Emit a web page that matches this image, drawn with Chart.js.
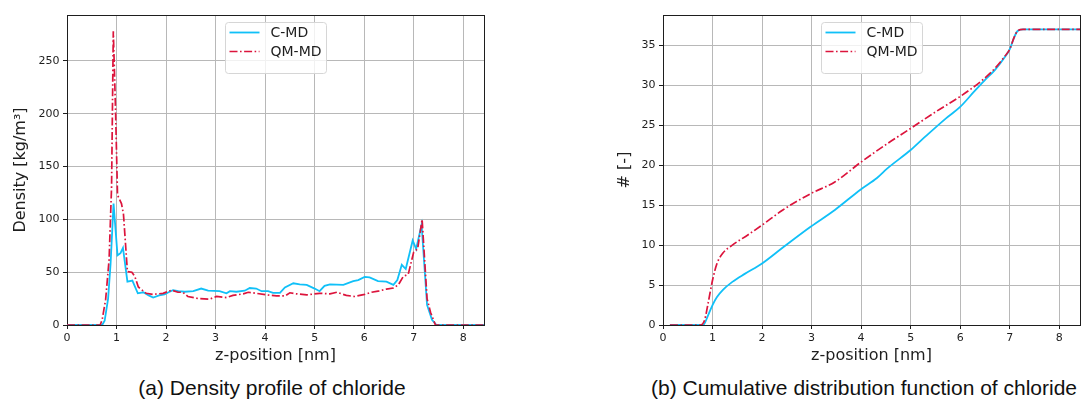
<!DOCTYPE html>
<html>
<head>
<meta charset="utf-8">
<script src="https://cdn.jsdelivr.net/npm/chart.js@4.4.1/dist/chart.umd.min.js"></script>
<style>
  body { margin: 0; background: #fff; }
  #wrap { position: relative; width: 1085px; height: 400px; overflow: hidden; }
  canvas { position: absolute; top: 0; }
  #density { left: 0; }
  #cdf { left: 540px; }
  .caption {
    position: absolute; top: 376px; line-height: 21px;
    font: 21px "Liberation Sans", Arial, sans-serif; color: #111; white-space: nowrap;
  }
  #capA { left: 0; width: 544px; text-align: center; }
  #capB { left: 651px; }
</style>
</head>
<body>
<div id="wrap">
  <canvas id="density" width="540" height="372"></canvas>
  <canvas id="cdf" width="545" height="372"></canvas>
  <div class="caption" id="capA">(a) Density profile of chloride</div>
  <div class="caption" id="capB">(b) Cumulative distribution function of chloride</div>
</div>
<script>
/* =========================
   Data
========================= */
// density profile, z-position [nm] / density [kg/m3]
const densZCmd = [0, 0.71, 0.76, 0.83, 0.88, 0.94, 1.02, 1.08, 1.13, 1.22, 1.32, 1.43, 1.54, 1.65, 1.74,
  1.86, 1.97, 2.05, 2.14, 2.25, 2.38, 2.55, 2.71, 2.85, 3.08, 3.22, 3.29, 3.42, 3.59, 3.69, 3.82, 3.93,
  4.06, 4.16, 4.30, 4.40, 4.57, 4.70, 4.84, 5.0, 5.1, 5.2, 5.31, 5.58, 5.78, 5.88, 6.01, 6.11, 6.28,
  6.45, 6.59, 6.67, 6.76, 6.84, 6.98, 7.05, 7.16, 7.27, 7.37, 7.46, 8.42];
const densCmd = [0, 0, 4, 25, 58, 115, 66, 68, 73, 41, 42, 30, 31, 28, 26,
  28, 29, 31, 33, 32, 31.5, 32, 34.5, 32.5, 32, 30, 32, 31.5, 32.5, 35, 34.5, 32,
  32, 30.5, 30.5, 35.5, 39.5, 38.5, 38, 34.5, 32, 37, 38.5, 38, 41.5, 42.5, 45.5, 45, 41.5,
  41, 38, 42.5, 57, 53, 80, 72, 95, 19, 5, 0, 0];

const densZQm = [0, 0.67, 0.71, 0.78, 0.85, 0.90, 0.935, 0.98, 1.02, 1.10, 1.14, 1.22, 1.31, 1.37, 1.44,
  1.6, 1.74, 1.94, 2.11, 2.24, 2.34, 2.44, 2.65, 2.88, 3.02, 3.22, 3.35, 3.56, 3.66, 3.82, 4.03, 4.23,
  4.40, 4.50, 4.63, 4.84, 5.1, 5.31, 5.45, 5.64, 5.81, 6.01, 6.15, 6.28, 6.45, 6.59, 6.69, 6.79, 6.89,
  7.0, 7.08, 7.17, 7.27, 7.34, 7.44, 8.42];
const densQm = [0, 0, 5, 24, 62, 131, 278, 204, 123, 115, 105, 50.5, 50, 46, 36,
  30, 29, 30, 33, 31, 31, 27, 25, 24.5, 27, 26, 28, 29.5, 31, 30, 28.5, 27.5,
  27.5, 30.5, 29.5, 28.5, 30, 29.5, 31, 28, 27, 29, 31, 32, 34, 35, 38, 46, 48,
  69, 72, 100, 25, 12, 0, 0];

// cumulative number of ions, z-position [nm] / # [-]
const cdfZCmd = [0.14, 0.81, 0.91, 1.0, 1.09, 1.21, 1.40, 1.65, 2.0, 2.42, 2.98, 3.47, 4.0, 4.32, 4.53,
  5.0, 5.3, 5.72, 6.0, 6.28, 6.49, 6.70, 6.91, 7.0, 7.09, 7.16, 7.27, 8.42];
const cdfCmd = [0, 0, 1.2, 2.5, 3.5, 4.4, 5.4, 6.4, 7.7, 9.7, 12.3, 14.4, 17.0, 18.4, 19.6,
  21.9, 23.6, 25.9, 27.3, 29.2, 30.6, 31.9, 33.6, 34.5, 36.0, 36.8, 37.0, 37.0];

const cdfZQm = [0.14, 0.75, 0.84, 0.91, 1.0, 1.09, 1.21, 1.40, 1.72, 2.0, 2.42, 3.0, 3.47, 4.0, 4.53,
  5.0, 5.51, 6.0, 6.42, 6.70, 6.91, 7.0, 7.09, 7.16, 7.27, 8.42];
const cdfQm = [0, 0, 0.6, 2.7, 5.6, 7.7, 9.0, 10.0, 11.3, 12.5, 14.4, 16.5, 17.9, 20.4, 22.7,
  24.6, 26.7, 28.6, 30.5, 32.1, 33.7, 34.5, 36.0, 36.8, 37.0, 37.0];

const seriesNames = ['C-MD', 'QM-MD'];
const zMax = 8.42;

/* =========================
   Styling helpers
========================= */
const cmdColor = '#10c0f8';
const qmColor = '#dc143c';
const inkColor = '#1e1e1e';

Chart.defaults.font.family = '"DejaVu Sans", sans-serif';
Chart.defaults.color = inkColor;

const toPoints = (xs, ys) => xs.map((x, i) => ({ x: x, y: ys[i] }));

function makeDatasets(zCmd, vCmd, zQm, vQm, smooth) {
  return [
    {
      label: seriesNames[0],
      data: toPoints(zCmd, vCmd),
      borderColor: cmdColor,
      borderWidth: 1.8,
      pointRadius: 0,
      tension: 0,
      cubicInterpolationMode: smooth ? 'monotone' : 'default',
      order: 1
    },
    {
      label: seriesNames[1],
      data: toPoints(zQm, vQm),
      borderColor: qmColor,
      borderWidth: 1.7,
      borderDash: [8, 2.5, 1.6, 2.5],
      pointRadius: 0,
      tension: 0,
      cubicInterpolationMode: smooth ? 'monotone' : 'default',
      order: 0
    }
  ];
}

// black frame round the plot area
const framePlugin = {
  id: 'frame',
  beforeDatasetsDraw(chart) {
    const { ctx, chartArea: a } = chart;
    ctx.save();
    ctx.strokeStyle = inkColor;
    ctx.lineWidth = 1;
    const l = Math.round(a.left) + 0.5, t = Math.round(a.top) + 0.5;
    const r = Math.round(a.right) + 0.5, b = Math.round(a.bottom) + 0.5;
    ctx.strokeRect(l, t, r - l, b - t);
    ctx.restore();
  }
};

// boxed legend inside the plot, upper centre
const boxLegend = {
  id: 'boxLegend',
  afterDatasetsDraw(chart) {
    const { ctx, chartArea: a } = chart;
    const w = 101, h = 51;
    const x0 = Math.round((a.left + a.right) / 2 - w / 2) + 0.5;
    const y0 = Math.round(a.top) + 7.5;
    ctx.save();
    ctx.beginPath();
    ctx.roundRect(x0, y0, w, h, 3);
    ctx.fillStyle = 'rgba(255,255,255,0.8)';
    ctx.fill();
    ctx.strokeStyle = '#d6d6d6';
    ctx.lineWidth = 1;
    ctx.stroke();
    ctx.font = '14px "DejaVu Sans"';
    ctx.textBaseline = 'middle';
    chart.data.datasets.forEach((ds, i) => {
      const y = y0 + 10 + i * 19;
      ctx.beginPath();
      ctx.setLineDash(ds.borderDash || []);
      ctx.strokeStyle = ds.borderColor;
      ctx.lineWidth = ds.borderWidth;
      ctx.moveTo(x0 + 4, y);
      ctx.lineTo(x0 + 34, y);
      ctx.stroke();
      ctx.setLineDash([]);
      ctx.fillStyle = inkColor;
      ctx.fillText(ds.label, x0 + 45, y + 1);
    });
    ctx.restore();
  }
};

function makeScales(yMax, yStep, yTitle, yTitlePad, yWidth) {
  const grid = { color: '#b8b8b8', lineWidth: 1, tickLength: 4, tickColor: inkColor };
  return {
    x: {
      type: 'linear',
      min: 0,
      max: zMax,
      ticks: { stepSize: 1, includeBounds: false, padding: 3, color: inkColor, font: { size: 11 } },
      grid: grid,
      border: { display: false },
      title: { display: true, text: 'z-position [nm]', color: inkColor, font: { size: 16 }, padding: { top: 0, bottom: 7 } },
      afterFit(scale) { scale.height = 47; }
    },
    y: {
      type: 'linear',
      min: 0,
      max: yMax,
      ticks: { stepSize: yStep, includeBounds: false, padding: 3.5, color: inkColor, font: { size: 11 } },
      grid: grid,
      border: { display: false },
      title: { display: true, text: yTitle, color: inkColor, font: { size: 16 }, padding: { top: yTitlePad, bottom: 0 } },
      afterFit(scale) { scale.width = yWidth; }
    }
  };
}

function makeChart(id, datasets, scales, padding) {
  return new Chart(document.getElementById(id).getContext('2d'), {
    type: 'line',
    data: { datasets: datasets },
    options: {
      responsive: false,
      animation: false,
      layout: { padding: padding },
      plugins: { legend: { display: false }, tooltip: { enabled: false } },
      scales: scales
    },
    plugins: [framePlugin, boxLegend]
  });
}

/* =========================
   Density profile
========================= */
makeChart('density',
  makeDatasets(densZCmd, densCmd, densZQm, densQm, false),
  makeScales(293.5, 50, 'Density [kg/m\u00B3]', 11, 67),
  { top: 15, right: 56, left: 0, bottom: 0 });

/* =========================
   Cumulative distribution
========================= */
makeChart('cdf',
  makeDatasets(cdfZCmd, cdfCmd, cdfZQm, cdfQm, true),
  makeScales(38.8, 5, '# [-]', 75.4, 123),
  { top: 15, right: 5, left: 0, bottom: 0 });
</script>
</body>
</html>
